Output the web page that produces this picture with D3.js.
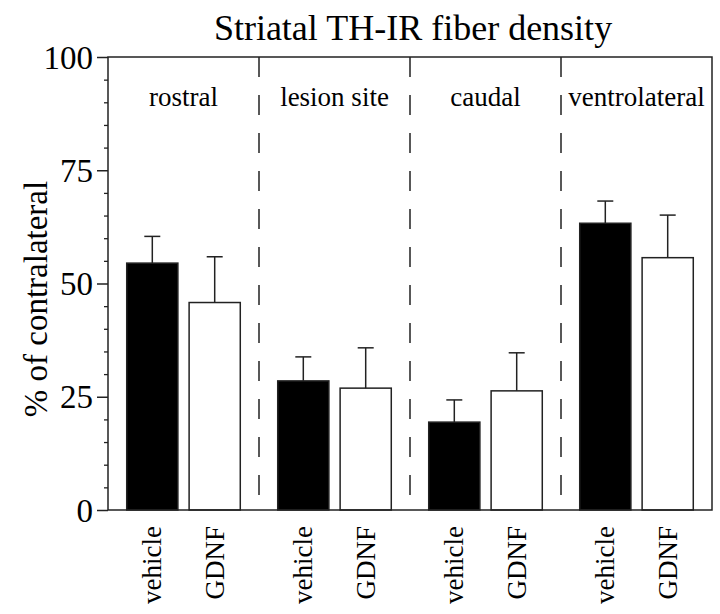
<!DOCTYPE html>
<html><head><meta charset="utf-8">
<script src="https://cdn.jsdelivr.net/npm/d3@7"></script>
<style>body{margin:0;background:#fff}svg{display:block}svg text{font-family:"Liberation Serif","Times New Roman",serif !important;fill:#000}</style>
</head><body><svg id="c" width="720" height="614"></svg>
<script>
const regions = ["rostral","lesion site","caudal","ventrolateral"];
const treatments = ["vehicle","GDNF"];
const vehicleMean = [54.5, 28.5, 19.4, 63.3];
const vehicleErr  = [5.9, 5.3, 4.9, 4.9];
const gdnfMean    = [45.8, 26.9, 26.3, 55.7];
const gdnfErr     = [10.1, 8.9, 8.4, 9.4];
const majorTicks = [0, 25, 50, 75, 100];
const title = "Striatal TH-IR fiber density";
const yTitle = "% of contralateral";

const FONT = '"Liberation Serif","Times New Roman",serif';
const svg = d3.select("#c");
const L = 108, R = 712, T = 57, B = 510;
const y = d3.scaleLinear().domain([0,100]).range([B,T]);
const x0 = d3.scaleBand().domain(regions).range([L,R]).paddingInner(0).paddingOuter(0);
const x1 = d3.scaleBand().domain(treatments).range([0,x0.bandwidth()]).paddingInner(0.18).paddingOuter(0.3);

const data = [];
regions.forEach((r,i)=>{
  data.push({region:r, t:"vehicle", v:vehicleMean[i], e:vehicleErr[i]});
  data.push({region:r, t:"GDNF", v:gdnfMean[i], e:gdnfErr[i]});
});

// title
svg.append("text").attr("x", 413).attr("y", 40).attr("text-anchor","middle")
  .style("font-family",FONT).style("font-size","36px").text(title);

// dividers
svg.selectAll("line.div").data(regions.slice(1)).join("line")
  .attr("x1", d=>x0(d)).attr("x2", d=>x0(d)).attr("y1", T).attr("y2", B)
  .attr("stroke","#222").attr("stroke-width",1.5).attr("stroke-dasharray","20,18");

// bars
const cx = d => x0(d.region)+x1(d.t);
svg.selectAll("rect.bar").data(data).join("rect")
  .attr("x", cx).attr("width", x1.bandwidth())
  .attr("y", d=>y(d.v)).attr("height", d=>B-y(d.v))
  .attr("fill", d=>d.t==="vehicle"?"#000":"#fff")
  .attr("stroke","#222").attr("stroke-width",1.5);

// error bars
const eb = svg.selectAll("g.eb").data(data).join("g");
eb.append("line").attr("x1", d=>cx(d)+x1.bandwidth()/2).attr("x2", d=>cx(d)+x1.bandwidth()/2)
  .attr("y1", d=>y(d.v)).attr("y2", d=>y(d.v+d.e)).attr("stroke","#222").attr("stroke-width",1.5);
eb.append("line").attr("x1", d=>cx(d)+x1.bandwidth()/2-8).attr("x2", d=>cx(d)+x1.bandwidth()/2+8)
  .attr("y1", d=>y(d.v+d.e)).attr("y2", d=>y(d.v+d.e)).attr("stroke","#222").attr("stroke-width",1.5);

// frame
svg.append("rect").attr("x",L).attr("y",T).attr("width",R-L).attr("height",B-T)
  .attr("fill","none").attr("stroke","#222").attr("stroke-width",1.5);

// y axis minor ticks
const minor = d3.range(0,101,5).filter(v=>!majorTicks.includes(v));
svg.append("g").attr("transform",`translate(${L},0)`)
  .call(d3.axisLeft(y).tickValues(minor).tickSize(4).tickFormat(""))
  .call(g=>g.select(".domain").remove())
  .call(g=>g.selectAll("line").attr("stroke","#222").attr("stroke-width",1.3));
// y axis major ticks
svg.append("g").attr("transform",`translate(${L},0)`)
  .call(d3.axisLeft(y).tickValues(majorTicks).tickSize(11).tickPadding(4).tickFormat(d3.format("d")))
  .attr("font-family", FONT)
  .call(g=>g.select(".domain").remove())
  .call(g=>g.selectAll("line").attr("stroke","#222").attr("stroke-width",1.5))
  .call(g=>g.selectAll("text").attr("dy","0.34em").style("font-size","33px").style("font-family",FONT).attr("fill","#000"));

// y title
svg.append("text").attr("transform","translate(47,299) rotate(-90)").attr("text-anchor","middle")
  .style("font-family",FONT).style("font-size","33px").text(yTitle);

// region labels
svg.selectAll("text.reg").data(regions).join("text")
  .attr("x", d=>x0(d)+x0.bandwidth()/2).attr("y", 106).attr("text-anchor","middle")
  .style("font-family",FONT).style("font-size","27px").text(d=>d);

// x labels
svg.selectAll("text.xl").data(data).join("text")
  .attr("transform", d=>`translate(${cx(d)+x1.bandwidth()/2+9},526) rotate(-90)`)
  .attr("text-anchor","end").style("font-family",FONT).style("font-size","27px").text(d=>d.t);
</script></body></html>
